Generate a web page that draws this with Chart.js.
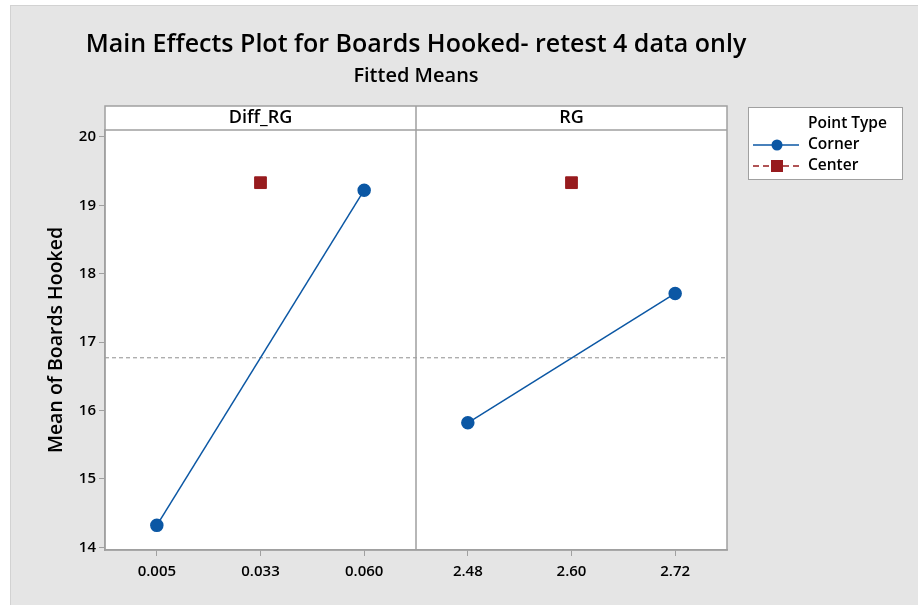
<!DOCTYPE html>
<html>
<head>
<meta charset="utf-8">
<title>Main Effects Plot for Boards Hooked</title>
<script src="https://cdn.jsdelivr.net/npm/chart.js@4.4.0/dist/chart.umd.min.js"></script>
<style>
  html, body { margin: 0; padding: 0; background: #ffffff; }
  #wrap { width: 918px; height: 605px; position: relative; }
</style>
</head>
<body>
<div id="wrap"><canvas id="mainEffects"></canvas></div>

<script>
// factor levels (tick labels) for each panel
var panelNames = ['Diff_RG', 'RG'];
var diffLevels = ['0.005', '0.033', '0.060'];
var rgLevels = ['2.48', '2.60', '2.72'];

// fitted means per level (null = no point of that type at that level)
var diffCorner = [14.32, null, 19.22];
var diffCenter = [null, 19.33, null];
var rgCorner = [15.82, null, 17.71];
var rgCenter = [null, 19.33, null];

var overallMean = 16.77;
var yTicks = [14, 15, 16, 17, 18, 19, 20];

var cornerColor = '#0b57a4';
var centerColor = '#971b1e';
var FONT = '"Open Sans", "Noto Sans", sans-serif';

var tickLabels = diffLevels.concat(rgLevels);

function toPoints(values, offset) {
    var pts = [];
    values.forEach(function(v, i) {
        if (v !== null) pts.push({ x: i + offset, y: v });
    });
    return pts;
}

var framePlugin = {
    id: 'minitabFrame',
    beforeDraw: function(chart) {
        var ctx = chart.ctx, a = chart.chartArea;
        ctx.save();
        ctx.fillStyle = '#ffffff';
        ctx.fillRect(0, 0, chart.width, chart.height);
        ctx.fillStyle = '#e5e5e5';
        ctx.fillRect(10, 5, chart.width - 10, chart.height - 5);
        ctx.strokeStyle = '#d2d2d2';
        ctx.lineWidth = 1;
        ctx.strokeRect(10.5, 5.5, chart.width - 10, chart.height - 5);
        ctx.fillStyle = '#ffffff';
        ctx.fillRect(a.left, a.top, a.right - a.left, a.bottom - a.top);
        ctx.restore();
    },
    afterDraw: function(chart) {
        var ctx = chart.ctx, a = chart.chartArea;
        var xs = chart.scales.x;
        var mid = xs.getPixelForValue(2.5);
        var headTop = a.top - 24;
        ctx.save();
        // header strip
        ctx.fillStyle = '#ffffff';
        ctx.fillRect(a.left, headTop, a.right - a.left, a.top - headTop);
        ctx.strokeStyle = '#a0a0a0';
        ctx.lineWidth = 1.5;
        ctx.strokeRect(a.left, headTop, a.right - a.left, a.bottom - headTop);
        ctx.beginPath();
        ctx.moveTo(a.left, a.top);
        ctx.lineTo(a.right, a.top);
        ctx.moveTo(mid, headTop);
        ctx.lineTo(mid, a.bottom);
        ctx.stroke();

        ctx.fillStyle = '#000000';
        ctx.textAlign = 'center';
        ctx.textBaseline = 'middle';
        ctx.font = '600 18px ' + FONT;
        ctx.fillText(panelNames[0], (a.left + mid) / 2, headTop + 12);
        ctx.fillText(panelNames[1], (mid + a.right) / 2, headTop + 12);

        // titles
        var cx = (a.left + a.right) / 2;
        ctx.font = '600 25px ' + FONT;
        ctx.fillText('Main Effects Plot for Boards Hooked- retest 4 data only', cx, 45);
        ctx.font = '600 20px ' + FONT;
        ctx.fillText('Fitted Means', cx, 76);

        // legend
        var lx = 748, ly = 107, lw = 154, lh = 72;
        ctx.fillStyle = '#ffffff';
        ctx.fillRect(lx, ly, lw, lh);
        ctx.strokeStyle = '#a0a0a0';
        ctx.lineWidth = 1;
        ctx.strokeRect(lx + 0.5, ly + 0.5, lw, lh);
        ctx.fillStyle = '#000000';
        ctx.textAlign = 'left';
        ctx.font = '600 15.5px ' + FONT;
        ctx.fillText('Point Type', 808, 124);
        ctx.fillText('Corner', 808, 145);
        ctx.fillText('Center', 808, 166);

        ctx.strokeStyle = cornerColor;
        ctx.lineWidth = 1.5;
        ctx.beginPath();
        ctx.moveTo(753, 145);
        ctx.lineTo(799, 145);
        ctx.stroke();
        ctx.fillStyle = cornerColor;
        ctx.beginPath();
        ctx.arc(777, 145, 5.5, 0, Math.PI * 2);
        ctx.fill();

        ctx.strokeStyle = centerColor;
        ctx.setLineDash([6, 4]);
        ctx.beginPath();
        ctx.moveTo(753, 166);
        ctx.lineTo(799, 166);
        ctx.stroke();
        ctx.setLineDash([]);
        ctx.fillStyle = centerColor;
        ctx.fillRect(771, 160, 12, 12);
        ctx.restore();
    }
};

var ctx = document.getElementById('mainEffects').getContext('2d');
var mainEffectsChart = new Chart(ctx, {
    type: 'scatter',
    data: {
        datasets: [
            {
                label: 'Mean',
                data: [{ x: -0.5, y: overallMean }, { x: 5.5, y: overallMean }],
                showLine: true,
                borderColor: '#8f8f8f',
                borderWidth: 1,
                borderDash: [4, 3],
                pointRadius: 0,
                order: 3
            },
            {
                label: 'Corner',
                data: toPoints(diffCorner, 0),
                showLine: true,
                borderColor: cornerColor,
                backgroundColor: cornerColor,
                borderWidth: 1.5,
                pointRadius: 6,
                pointHoverRadius: 6,
                order: 1
            },
            {
                label: 'Corner',
                data: toPoints(rgCorner, 3),
                showLine: true,
                borderColor: cornerColor,
                backgroundColor: cornerColor,
                borderWidth: 1.5,
                pointRadius: 6,
                pointHoverRadius: 6,
                order: 1
            },
            {
                label: 'Center',
                data: toPoints(diffCenter, 0).concat(toPoints(rgCenter, 3)),
                showLine: false,
                pointStyle: 'rect',
                borderColor: centerColor,
                backgroundColor: centerColor,
                pointRadius: 8.3,
                pointHoverRadius: 8.3,
                order: 2
            }
        ]
    },
    options: {
        responsive: true,
        maintainAspectRatio: false,
        animation: false,
        layout: { padding: { left: 10, top: 130, right: 191, bottom: 0 } },
        plugins: {
            legend: { display: false },
            tooltip: { enabled: false }
        },
        scales: {
            x: {
                type: 'linear',
                min: -0.5,
                max: 5.5,
                afterBuildTicks: function(scale) {
                    scale.ticks = tickLabels.map(function(t, i) { return { value: i }; });
                },
                afterFit: function(scale) { scale.height = 55; },
                ticks: {
                    autoSkip: false,
                    maxRotation: 0,
                    padding: 7,
                    color: '#000000',
                    font: { family: FONT, size: 15, weight: '600' },
                    callback: function(value) { return tickLabels[value]; }
                },
                grid: {
                    drawOnChartArea: false,
                    drawTicks: true,
                    tickLength: 6,
                    color: '#a0a0a0'
                },
                border: { color: '#a0a0a0', width: 1.5 }
            },
            y: {
                type: 'linear',
                min: 13.96,
                max: 20.1,
                afterBuildTicks: function(scale) {
                    scale.ticks = yTicks.map(function(v) { return { value: v }; });
                },
                afterFit: function(scale) { scale.width = 95; },
                ticks: {
                    padding: 3,
                    color: '#000000',
                    font: { family: FONT, size: 15, weight: '600' }
                },
                grid: {
                    drawOnChartArea: false,
                    drawTicks: true,
                    tickLength: 6,
                    color: '#a0a0a0'
                },
                border: { color: '#a0a0a0', width: 1.5 },
                title: {
                    display: true,
                    text: 'Mean of Boards Hooked',
                    color: '#000000',
                    padding: { top: 35, bottom: 0 },
                    font: { family: FONT, size: 19.5, weight: '600' }
                }
            }
        }
    },
    plugins: [framePlugin]
});
</script>
</body>
</html>
